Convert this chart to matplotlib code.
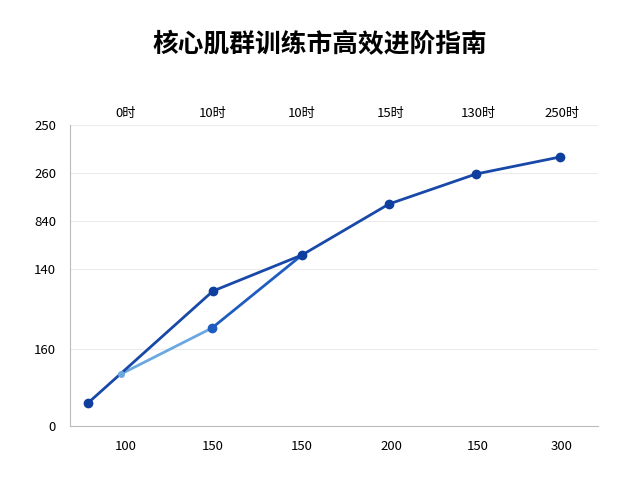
import matplotlib
matplotlib.use("Agg")
import matplotlib.pyplot as plt

plt.rcParams['font.family'] = ['Noto Sans CJK SC', 'DejaVu Sans']

title = "核心肌群训练市高效进阶指南"
main_x = [88, 213, 302, 389, 476, 560]
main_y = [23, 135, 171, 222, 252, 269]
alt_x = [121, 212, 302]
alt_y = [52, 98, 171]
xtick_pos = [126, 213, 302, 391, 478, 562]
xtick_labels = ["100", "150", "150", "200", "150", "300"]
top_labels = ["0时", "10时", "10时", "15时", "130时", "250时"]
ytick_pos = [0, 77, 157, 205, 253, 301]
ytick_labels = ["0", "160", "140", "840", "260", "250"]

fig = plt.figure(figsize=(6.4, 4.8), dpi=100)
ax = fig.add_axes([70/640, 54/480, 528/640, 301/480])
ax.set_xlim(70, 598)
ax.set_ylim(0, 301)

for y in ytick_pos[1:]:
    ax.axhline(y, color="#ececec", lw=0.8, zorder=0)

ax.plot(alt_x[:2], alt_y[:2], color="#6aa8e2", lw=2, zorder=2)
ax.plot(alt_x[1:], alt_y[1:], color="#1f5cc0", lw=2, zorder=2)
ax.plot(alt_x[1:2], alt_y[1:2], 'o', color="#1f5cc0", ms=6, zorder=4)
ax.plot(alt_x[:1], alt_y[:1], 'o', color="#6aa8e2", ms=4, zorder=4)
ax.plot(main_x, main_y, color="#1848a8", lw=2, marker='o', ms=6,
        markerfacecolor="#0f3f9e", markeredgecolor="#0f3f9e", zorder=3)

ax.set_xticks(xtick_pos)
ax.set_xticklabels(xtick_labels, fontsize=9.5)
ax.set_yticks(ytick_pos)
ax.set_yticklabels(ytick_labels, fontsize=9.5)
ax.tick_params(length=0, pad=10)
for s in ["top", "right"]:
    ax.spines[s].set_visible(False)
ax.spines["left"].set_color("#bbbbbb")
ax.spines["bottom"].set_color("#bbbbbb")

for x, lab in zip(xtick_pos, top_labels):
    ax.text(x, 313, lab, ha="center", va="center", fontsize=9.5)

fig.text(0.5, 1 - 45/480, title, ha="center", va="center", fontsize=18.5, fontweight="bold")
fig.savefig("out.png", dpi=100)
